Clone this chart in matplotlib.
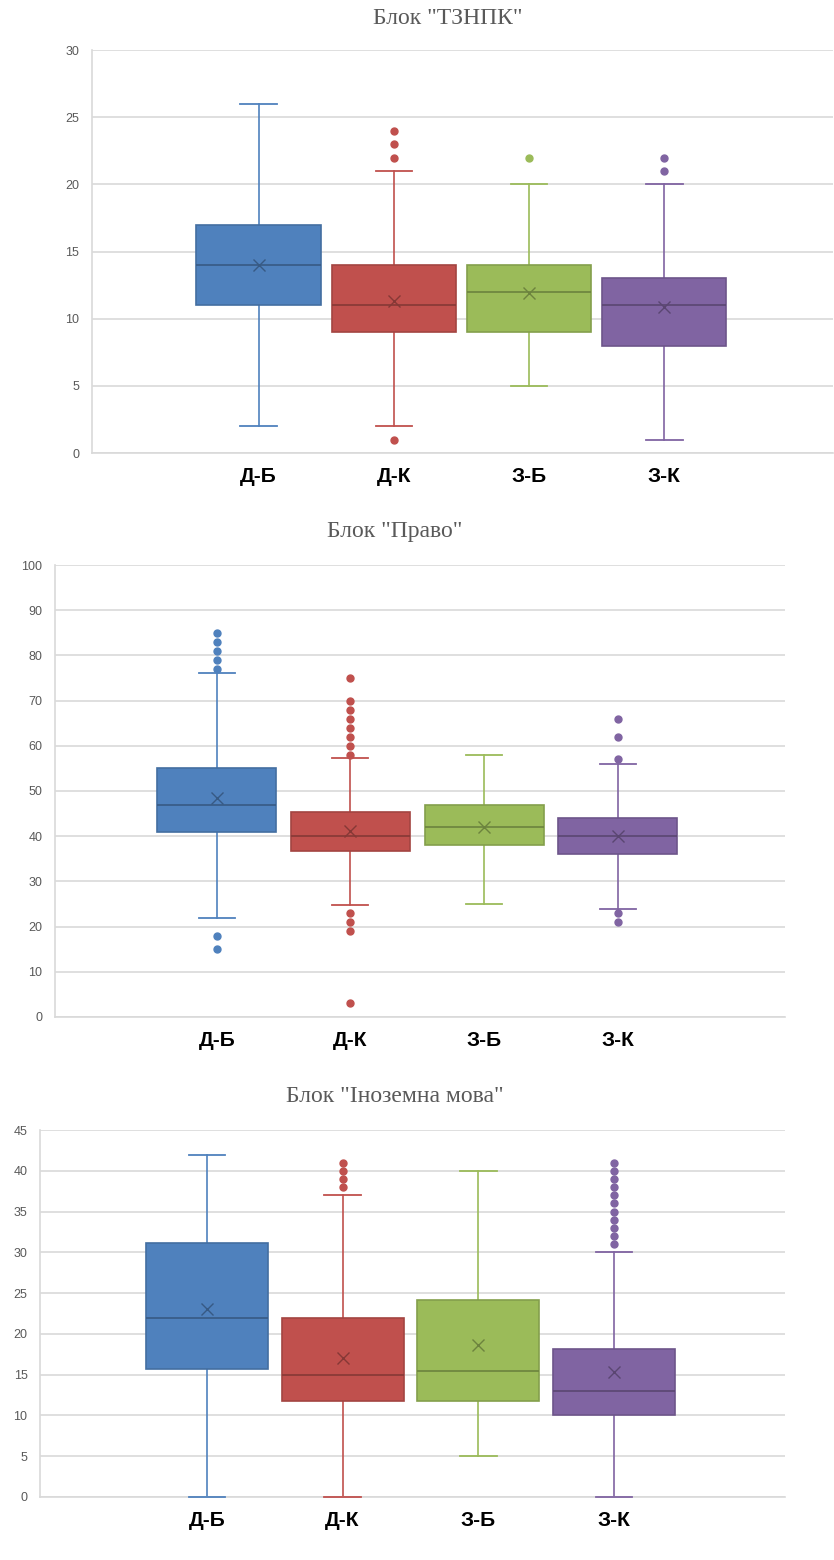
import numpy as np
import matplotlib.pyplot as plt
from matplotlib.colors import to_rgb

groups = ["Д-Б", "Д-К", "З-Б", "З-К"]
colors = ["#4F81BD", "#C0504D", "#9BBB59", "#8064A2"]

# Блок "ТЗНПК"
tznpk_lo = [2, 2, 5, 1]
tznpk_q1 = [11, 9, 9, 8]
tznpk_med = [14, 11, 12, 11]
tznpk_q3 = [17, 14, 14, 13]
tznpk_hi = [26, 21, 20, 20]
tznpk_mean = [14.0, 11.3, 11.9, 10.9]
tznpk_out = [[], [22, 23, 24, 1], [22], [21, 22]]

# Блок "Право"
pravo_lo = [22, 24.7, 25, 24]
pravo_q1 = [41, 36.7, 38, 36]
pravo_med = [47, 40, 42, 40]
pravo_q3 = [55, 45.4, 47, 44]
pravo_hi = [76, 57.4, 58, 56]
pravo_mean = [48.5, 41.2, 42.1, 40.1]
pravo_out = [[77, 79, 81, 83, 85, 18, 15],
             [58, 60, 62, 64, 66, 68, 70, 75, 23, 21, 19, 3],
             [],
             [57, 62, 66, 23, 21]]

# Блок "Іноземна мова"
lang_lo = [0, 0, 5, 0]
lang_q1 = [15.7, 11.8, 11.8, 10]
lang_med = [22, 15, 15.5, 13]
lang_q3 = [31.2, 22, 24.1, 18.1]
lang_hi = [42, 37, 40, 30]
lang_mean = [23.1, 17.1, 18.6, 15.3]
lang_out = [[], [38, 39, 40, 41], [], [31, 32, 33, 34, 35, 36, 37, 38, 39, 40, 41]]

GRID = "#D9D9D9"
TXT = "#595959"


def darker(c, f=0.72):
    r, g, b = to_rgb(c)
    return (r * f, g * f, b * f)


def make_stats(lo, q1, med, q3, hi, mean, out):
    stats = []
    for i in range(len(groups)):
        stats.append(dict(whislo=lo[i], q1=q1[i], med=med[i], q3=q3[i],
                          whishi=hi[i], mean=mean[i], fliers=out[i]))
    return stats


def draw_panel(ax, stats, ymax, ystep, xlim, width):
    pos = np.arange(len(groups))
    res = ax.bxp(stats, positions=pos, widths=width, showmeans=True,
                 patch_artist=True, capwidths=0.27)
    for i, c in enumerate(colors):
        dc = darker(c, 0.85)
        res["boxes"][i].set(facecolor=c, edgecolor=dc, linewidth=1.2, zorder=3)
        res["medians"][i].set(color=darker(c, 0.7), linewidth=1.2, zorder=4)
        for w in res["whiskers"][2 * i:2 * i + 2]:
            w.set(color=c, linewidth=1.2, zorder=2)
        for cp in res["caps"][2 * i:2 * i + 2]:
            cp.set(color=c, linewidth=1.3, zorder=3, clip_on=False)
        res["means"][i].set(marker="x", markeredgecolor=darker(c, 0.7),
                            markersize=8, markeredgewidth=1.0, zorder=5)
        res["fliers"][i].set(marker="o", markerfacecolor=c, markeredgecolor=c,
                             markersize=5, zorder=5)

    ax.set_ylim(0, ymax)
    ax.set_yticks(np.arange(0, ymax + 1, ystep))
    ax.set_xlim(*xlim)
    ax.set_xticks(pos)
    ax.set_xticklabels(groups, fontsize=15, fontweight="bold", color="black",
                       family="Liberation Sans")
    for lab in ax.get_yticklabels():
        lab.set_fontsize(9)
        lab.set_color(TXT)
        lab.set_family("Liberation Sans")
    ax.tick_params(axis="both", length=0)
    ax.tick_params(axis="x", pad=10)
    ax.tick_params(axis="y", pad=9)
    ax.grid(axis="y", color=GRID, linewidth=1.2)
    ax.set_axisbelow(True)
    for s in ["top", "right"]:
        ax.spines[s].set_visible(False)
    for s in ["left", "bottom"]:
        ax.spines[s].set_color(GRID)
        ax.spines[s].set_linewidth(1.2)


fig = plt.figure(figsize=(8.34, 15.6), dpi=100)

ax1 = fig.add_axes([0.110, 0.7096, 0.889, 0.2583])
draw_panel(ax1, make_stats(tznpk_lo, tznpk_q1, tznpk_med, tznpk_q3, tznpk_hi,
                           tznpk_mean, tznpk_out), 30, 5, (-1.234, 4.249), 0.92)

ax2 = fig.add_axes([0.066, 0.3481, 0.875, 0.2897])
draw_panel(ax2, make_stats(pravo_lo, pravo_q1, pravo_med, pravo_q3, pravo_hi,
                           pravo_mean, pravo_out), 100, 10, (-1.21, 4.25), 0.89)

ax3 = fig.add_axes([0.048, 0.0404, 0.893, 0.2352])
draw_panel(ax3, make_stats(lang_lo, lang_q1, lang_med, lang_q3, lang_hi,
                           lang_mean, lang_out), 45, 5, (-1.23, 4.26), 0.9)

title_kw = dict(fontsize=17, color=TXT, family="Liberation Serif",
                ha="center", va="center")
fig.text(448 / 834, 1 - 18 / 1560, 'Блок "ТЗНПК"', **title_kw)
fig.text(395 / 834, 1 - 532 / 1560, 'Блок "Право"', **title_kw)
fig.text(395 / 834, 1 - 1097 / 1560, 'Блок "Іноземна мова"', **title_kw)

fig.savefig("out.png", dpi=100, facecolor="white")
